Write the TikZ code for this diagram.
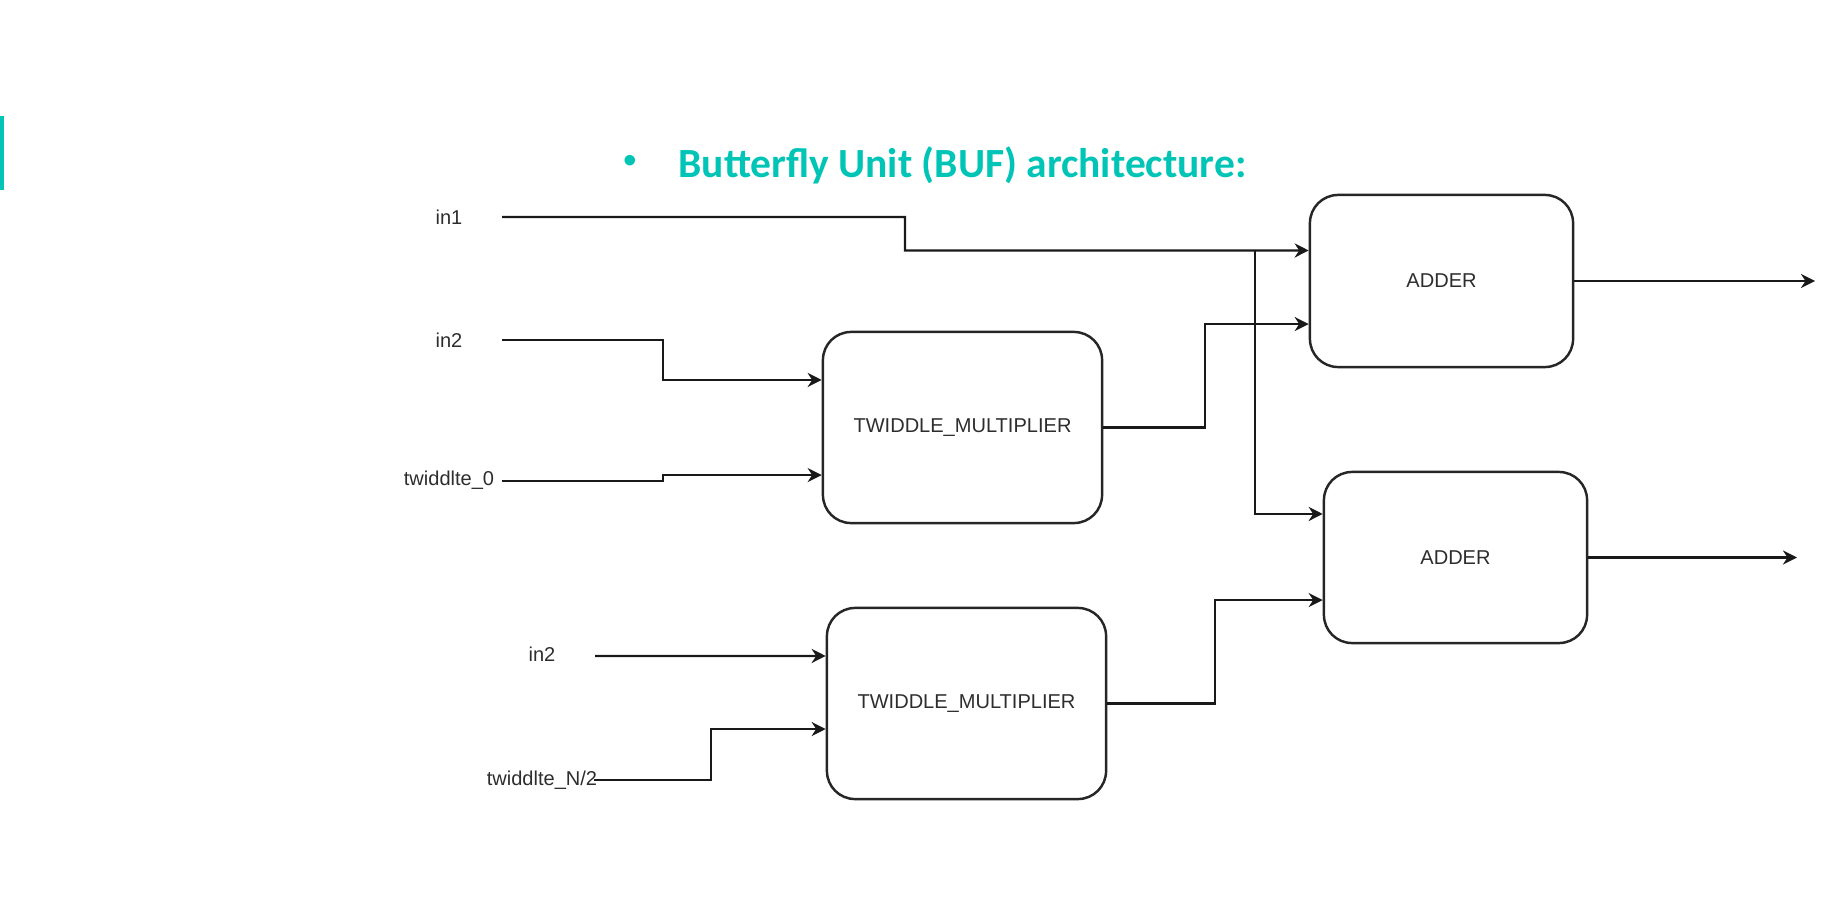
\documentclass[tikz,border=0pt]{standalone}
\usepackage{fontspec}
\setmainfont{Liberation Sans}
\newfontfamily\titlefont{Carlito}
\usetikzlibrary{arrows.meta}
\definecolor{bufteal}{RGB}{0,196,182}
\definecolor{labelgray}{RGB}{45,45,45}

\begin{document}
\begin{tikzpicture}[x=0.01cm,y=-0.01cm,
    block/.style={draw=black!85,line width=0.7pt,rounded corners=8pt,inner sep=0pt,
      font=\fontsize{5.7}{7}\selectfont,text=labelgray},
    sig/.style={font=\fontsize{5.7}{7}\selectfont,text=labelgray,inner sep=0pt},
    wire/.style={draw=black!90,line width=0.6pt},
    feed/.style={wire,-{Stealth[length=4pt,width=4pt,inset=1.3pt]}}]
    \useasboundingbox (0,0) rectangle (1827,900);
    % title
    \fill [bufteal] (0,116) rectangle (4,190);
    \node [text=bufteal,inner sep=0pt,font=\fontsize{11}{13}\selectfont] (dot) at (630,164) {\textbullet};
    \node [anchor=west,text=bufteal,inner sep=0pt,font=\titlefont\bfseries\fontsize{11.8}{14}\selectfont] (title) at (678,165) {Butterfly Unit (BUF) architecture:};
    % blocks
    \node [block,minimum width=2.63cm,minimum height=1.72cm] (add1) at (1441.5,281) {ADDER};
    \node [block,minimum width=2.63cm,minimum height=1.71cm] (add2) at (1455.5,557.5) {ADDER};
    \node [block,minimum width=2.79cm,minimum height=1.91cm] (tm1) at (962.5,427.5) {TWIDDLE\_MULTIPLIER};
    \node [block,minimum width=2.79cm,minimum height=1.91cm] (tm2) at (966.5,703.5) {TWIDDLE\_MULTIPLIER};
    % input labels
    \node [sig] (in1) at (449,217) {in1};
    \node [sig] (in2) at (449,340) {in2};
    \node [sig] (tw0) at (449,480) {twiddlte\_0};
    \node [sig] (in2b) at (542,654) {in2};
    \node [sig] (twN) at (542,780) {twiddlte\_N/2};
    \coordinate (in1s) at (502,217);
    \coordinate (in2s) at (502,340);
    \coordinate (tw0s) at (502,481);
    \coordinate (in2bs) at (595,656);
    \coordinate (twNs) at (594,780);
    \coordinate (split) at (1255,250.5);
    \coordinate (out1) at (1815,281);
    \coordinate (out2) at (1797,557.5);
    % connectors
    \draw [feed] (in1s) -- (905,217) -- (905,250.5) -- ([yshift=0.305cm]add1.west);
    \draw [feed] (split) |- ([yshift=0.435cm]add2.west);
    \draw [feed] (in2s) -- (663,340) |- ([yshift=0.475cm]tm1.west);
    \draw [feed] (tw0s) -- (663,481) |- ([yshift=-0.475cm]tm1.west);
    \draw [feed] (tm1.east) -- (1205,427.5) |- ([yshift=-0.43cm]add1.west);
    \draw [feed] (in2bs) -- ([yshift=0.475cm]tm2.west);
    \draw [feed] (twNs) -- (711,780) |- ([yshift=-0.255cm]tm2.west);
    \draw [feed] (tm2.east) -- (1215,703.5) |- ([yshift=-0.425cm]add2.west);
    \draw [feed] (add1.east) -- (out1);
    \draw [feed] (add2.east) -- (out2);
\end{tikzpicture}
\end{document}
